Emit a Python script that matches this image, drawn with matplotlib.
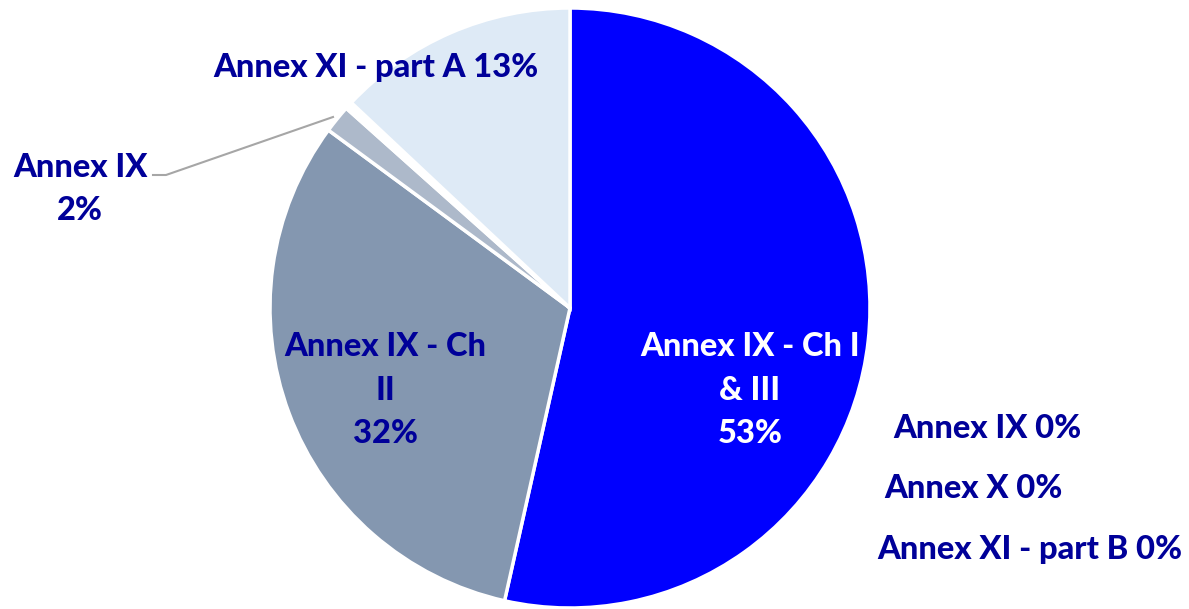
import matplotlib.pyplot as plt

plt.rcParams['font.family'] = ['Lato', 'DejaVu Sans']

# slices, clockwise from 12 o'clock
names = ['Annex IX - Ch I\n& III', 'Annex IX - Ch\nII', 'Annex IX',
         'Annex IX', 'Annex X', 'Annex XI - part B', 'Annex XI - part A']
shares = [53.5, 31.6, 1.5, 0.15, 0.1, 0.15, 13.0]
pct_text = ['53%', '32%', '2%', '0%', '0%', '0%', '13%']
colors = ['#0000FF', '#8497B0', '#ADB9CA', '#C9D3E0', '#D3DCE8', '#D9E2EE', '#DEEAF6']

navy = '#000099'

fig = plt.figure(figsize=(11.89, 6.09), dpi=100)
ax = fig.add_axes([0, 0, 1, 1])

ax.pie(shares, colors=colors, startangle=90, counterclock=False,
       radius=1.0, center=(0, 0),
       wedgeprops=dict(edgecolor='white', linewidth=2.5))

# pixel -> data helper (pie centre at 570,308 px, radius 300 px)
def px(x, y):
    return (x - 570) / 300.0, (308 - y) / 300.0

fs = 23.5
wt = 900
ls = 1.62

x, y = px(750, 390)
ax.text(x, y, names[0] + '\n' + pct_text[0], color='white', fontsize=fs,
        fontweight=wt, ha='center', va='center', linespacing=ls)

x, y = px(385, 390)
ax.text(x, y, names[1] + '\n' + pct_text[1], color=navy, fontsize=fs,
        fontweight=wt, ha='center', va='center', linespacing=ls)

x, y = px(80, 189)
ax.text(x, y, names[2] + '\n' + pct_text[2], color=navy, fontsize=fs,
        fontweight=wt, ha='center', va='center', linespacing=ls)
# leader line for the small slice
p0, p1, p2 = px(153, 175), px(166, 175), px(333, 117)
ax.plot([p0[0], p1[0], p2[0]], [p0[1], p1[1], p2[1]], color='#A6A6A6', lw=1.5)

x, y = px(376, 68)
ax.text(x, y, names[6] + ' ' + pct_text[6], color=navy, fontsize=fs,
        fontweight=wt, ha='center', va='center')

for i, (cx, cy) in zip([3, 4, 5], [(987, 428), (973, 489), (1030, 549)]):
    x, y = px(cx, cy)
    ax.text(x, y, names[i] + ' ' + pct_text[i], color=navy, fontsize=fs,
            fontweight=wt, ha='center', va='center')

ax.set_xlim(-570 / 300.0, (1189 - 570) / 300.0)
ax.set_ylim(-(609 - 308) / 300.0, 308 / 300.0)
ax.set_aspect('equal')
ax.axis('off')

fig.savefig('out.png', dpi=100)
